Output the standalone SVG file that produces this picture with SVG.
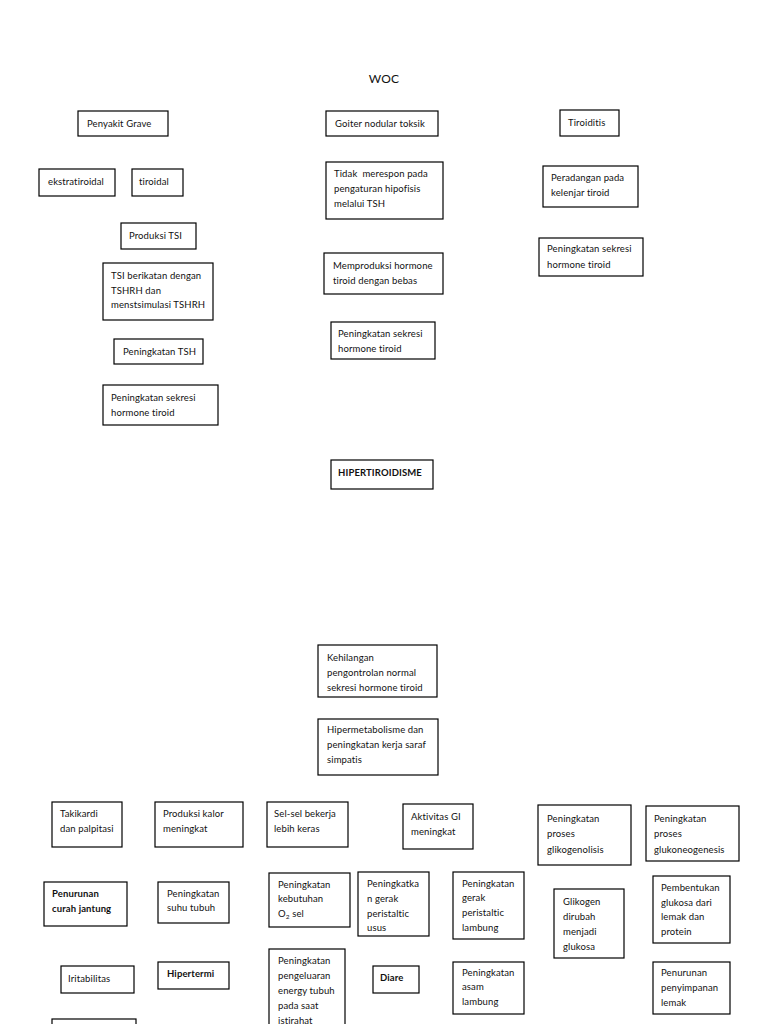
<svg xmlns="http://www.w3.org/2000/svg" width="768" height="1024" viewBox="0 0 768 1024">
<style>
rect.b{fill:#fff;stroke:#000;stroke-width:1.2}
text{font-family:Lato,"Open Sans","Liberation Sans",sans-serif;font-size:9.5px;fill:#111;letter-spacing:0.12px}
text.bd{font-weight:bold}
text.t{font-size:12px;text-anchor:middle}
</style>
<rect width="768" height="1024" fill="#fff"/>
<text class="t" x="384" y="83">WOC</text>
<g id="connectors"/>
<g id="n1"><rect class="b" x="78" y="111" width="90" height="25"/><text x="87" y="127">Penyakit Grave</text></g>
<g id="n2"><rect class="b" x="39" y="169" width="76" height="27"/><text x="48" y="185">ekstratiroidal</text></g>
<g id="n3"><rect class="b" x="132" y="169" width="51" height="27"/><text x="139" y="185">tiroidal</text></g>
<g id="n4"><rect class="b" x="326" y="111" width="112" height="25"/><text x="335" y="127">Goiter nodular toksik</text></g>
<g id="n5"><rect class="b" x="326" y="162" width="117" height="57"/><text x="334" y="176.5" xml:space="preserve">Tidak  merespon pada</text><text x="334" y="191.5">pengaturan hipofisis</text><text x="334" y="206.5">melalui TSH</text></g>
<g id="n6"><rect class="b" x="560" y="110" width="59" height="26"/><text x="568" y="126">Tiroiditis</text></g>
<g id="n7"><rect class="b" x="543" y="166" width="95" height="41"/><text x="551" y="180.5">Peradangan pada</text><text x="551" y="195.5">kelenjar tiroid</text></g>
<g id="n8"><rect class="b" x="539" y="238" width="104" height="38"/><text x="547" y="251.5">Peningkatan sekresi</text><text x="547" y="267.5">hormone tiroid</text></g>
<g id="n9"><rect class="b" x="121" y="223" width="75" height="26"/><text x="129" y="238.5">Produksi TSI</text></g>
<g id="n10"><rect class="b" x="103" y="263" width="110" height="57"/><text x="111" y="278.5">TSI berikatan dengan</text><text x="111" y="293.5">TSHRH dan</text><text x="111" y="307.5">menstsimulasi TSHRH</text></g>
<g id="n11"><rect class="b" x="114" y="339" width="89" height="25"/><text x="123" y="354.5">Peningkatan TSH</text></g>
<g id="n12"><rect class="b" x="103" y="385" width="115" height="40"/><text x="111" y="400.5">Peningkatan sekresi</text><text x="111" y="415.5">hormone tiroid</text></g>
<g id="n13"><rect class="b" x="324" y="253" width="119" height="41"/><text x="333" y="268.5">Memproduksi hormone</text><text x="333" y="283.5">tiroid dengan bebas</text></g>
<g id="n14"><rect class="b" x="331" y="322" width="104" height="37"/><text x="338" y="336.5">Peningkatan sekresi</text><text x="338" y="351.5">hormone tiroid</text></g>
<g id="n15"><rect class="b" x="331" y="460" width="102" height="29"/><text class="bd" x="338" y="475.5">HIPERTIROIDISME</text></g>
<g id="n16"><rect class="b" x="318" y="645" width="119" height="52"/><text x="327" y="660.5">Kehilangan</text><text x="327" y="675.5">pengontrolan normal</text><text x="327" y="690.5">sekresi hormone tiroid</text></g>
<g id="n17"><rect class="b" x="318" y="719" width="120" height="56"/><text x="327" y="732.5">Hipermetabolisme dan</text><text x="327" y="747.5">peningkatan kerja saraf</text><text x="327" y="762.5">simpatis</text></g>
<g id="n18"><rect class="b" x="52" y="802" width="70" height="45"/><text x="60" y="816.5">Takikardi</text><text x="60" y="831.5">dan palpitasi</text></g>
<g id="n19"><rect class="b" x="155" y="802" width="88" height="45"/><text x="163" y="816.5">Produksi kalor</text><text x="163" y="831.5">meningkat</text></g>
<g id="n20"><rect class="b" x="267" y="802" width="81" height="45"/><text x="274" y="816.5">Sel-sel bekerja</text><text x="274" y="831.5">lebih keras</text></g>
<g id="n21"><rect class="b" x="403" y="804" width="70" height="45"/><text x="411" y="819.5">Aktivitas GI</text><text x="411" y="834.5">meningkat</text></g>
<g id="n22"><rect class="b" x="538" y="805" width="93" height="60"/><text x="547" y="821.5">Peningkatan</text><text x="547" y="836.5">proses</text><text x="547" y="852.5">glikogenolisis</text></g>
<g id="n23"><rect class="b" x="646" y="806" width="93" height="55"/><text x="654" y="821.5">Peningkatan</text><text x="654" y="836.5">proses</text><text x="654" y="852.5">glukoneogenesis</text></g>
<g id="n24"><rect class="b" x="44" y="882" width="83" height="44"/><text class="bd" x="52" y="896.5">Penurunan</text><text class="bd" x="52" y="911.5">curah jantung</text></g>
<g id="n25"><rect class="b" x="158" y="882" width="71" height="41"/><text x="167" y="896.5">Peningkatan</text><text x="167" y="910.5">suhu tubuh</text></g>
<g id="n26"><rect class="b" x="269" y="873" width="81" height="54"/><text x="278" y="887.5">Peningkatan</text><text x="278" y="901.5">kebutuhan</text><text x="278" y="916.5">O<tspan font-size="6.5px" dy="2">2</tspan><tspan dy="-2"> sel</tspan></text></g>
<g id="n27"><rect class="b" x="358" y="872" width="71" height="64"/><text x="367" y="886.5">Peningkatka</text><text x="367" y="901.5">n gerak</text><text x="367" y="916.5">peristaltic</text><text x="367" y="930.5">usus</text></g>
<g id="n28"><rect class="b" x="453" y="872" width="71" height="67"/><text x="462" y="886.5">Peningkatan</text><text x="462" y="900.5">gerak</text><text x="462" y="915.5">peristaltic</text><text x="462" y="930.5">lambung</text></g>
<g id="n29"><rect class="b" x="554" y="889" width="70" height="69"/><text x="563" y="904.5">Glikogen</text><text x="563" y="919.5">dirubah</text><text x="563" y="934.5">menjadi</text><text x="563" y="949.5">glukosa</text></g>
<g id="n30"><rect class="b" x="653" y="876" width="77" height="67"/><text x="661" y="890.5">Pembentukan</text><text x="661" y="905.5">glukosa dari</text><text x="661" y="919.5">lemak dan</text><text x="661" y="934.5">protein</text></g>
<g id="n31"><rect class="b" x="61" y="966" width="73" height="27"/><text x="68" y="981.5">Iritabilitas</text></g>
<g id="n32"><rect class="b" x="158" y="962" width="71" height="27"/><text class="bd" x="167" y="976.5">Hipertermi</text></g>
<g id="n33"><rect class="b" x="269" y="949" width="76" height="90"/><text x="278" y="963.5">Peningkatan</text><text x="278" y="978.5">pengeluaran</text><text x="278" y="993.5">energy tubuh</text><text x="278" y="1008.5">pada saat</text><text x="278" y="1023.5">istirahat</text></g>
<g id="n34"><rect class="b" x="373" y="966" width="46" height="27"/><text class="bd" x="380" y="980.5">Diare</text></g>
<g id="n35"><rect class="b" x="453" y="962" width="71" height="52"/><text x="462" y="975.5">Peningkatan</text><text x="462" y="989.5">asam</text><text x="462" y="1004.5">lambung</text></g>
<g id="n36"><rect class="b" x="653" y="962" width="77" height="52"/><text x="661" y="975.5">Penurunan</text><text x="661" y="990.5">penyimpanan</text><text x="661" y="1005.5">lemak</text></g>
<g id="n37"><rect class="b" x="52" y="1019" width="84" height="20"/></g>
</svg>
